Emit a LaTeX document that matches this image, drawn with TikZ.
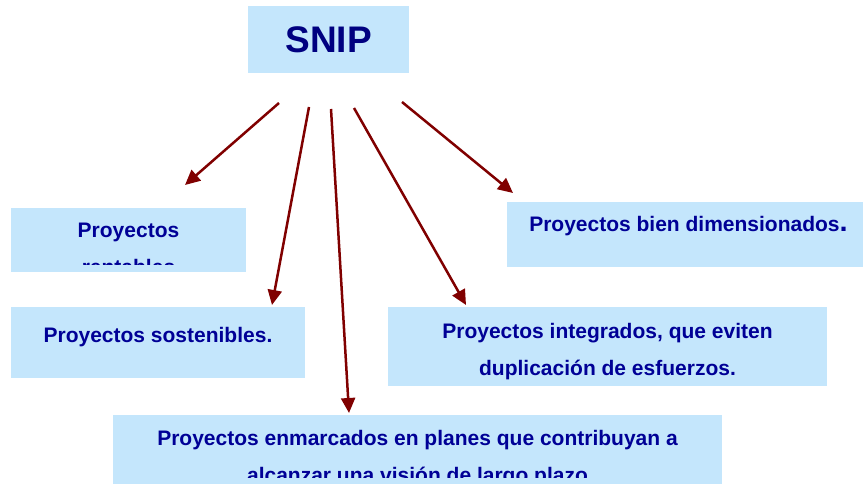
\documentclass[tikz,border=0pt]{standalone}
\usepackage{fontspec}
\setmainfont{Liberation Sans}
\usetikzlibrary{arrows.meta,positioning}
\definecolor{boxblue}{RGB}{196,230,252}
\definecolor{snipnavy}{RGB}{0,0,128}
\definecolor{txtnavy}{RGB}{0,0,150}
\definecolor{arrowred}{RGB}{128,0,0}
\tikzset{
  box/.style={rectangle,fill=boxblue,inner sep=0pt},
  txt/.style={inner sep=0pt,align=center,text=txtnavy,font=\bfseries\fontsize{21}{37}\selectfont},
  link/.style={->,draw=arrowred}
}

\begin{document}
\begin{tikzpicture}[x=1pt,y=-1pt,>={Triangle[length=15pt,width=14pt]},line width=2.5pt]
\useasboundingbox (0,0) rectangle (863,484);

\node[box,minimum width=161pt,minimum height=67pt,text=snipnavy,font=\bfseries\fontsize{37}{37}\selectfont] (snip) at (328.5,39.5) {SNIP};
\node[box,minimum width=235pt,minimum height=64pt] (rent) at (128.5,240) {};
\node[box,minimum width=363pt,minimum height=65pt] (dim)  at (688.5,234.5) {};
\node[box,minimum width=294pt,minimum height=71pt] (sost) at (158,342.5) {};
\node[box,minimum width=439pt,minimum height=79pt] (integ) at (607.5,346.5) {};
\node[box,minimum width=609pt,minimum height=85pt] (enm)  at (417.5,457.5) {};

\begin{scope}
\clip (rent.north west) rectangle (rent.east |- 0,264);
\node[txt] (rentT) [below=15pt of rent.north] {Proyectos\\rentables};
\end{scope}
\node[txt] (dimT) [below=14pt of dim.north] {Proyectos bien dimensionados{\fontsize{29}{29}\selectfont.}};
\node[txt] (sostT) [below=20pt of sost.north] {Proyectos sostenibles.};
\node[txt] (integT) [below=16pt of integ.north] {Proyectos integrados, que eviten\\duplicación de esfuerzos.};
\begin{scope}
\clip (enm.north west) rectangle (enm.east |- 0,477);
\node[txt] (enmT) [below=15pt of enm.north] {Proyectos enmarcados en planes que contribuyan a\\alcanzar una visión de largo plazo};
\end{scope}

% arrow ends
\coordinate (s1) at (279,103);  \coordinate (t1) at (185,185);
\coordinate (s2) at (309,107);  \coordinate (t2) at (272,305);
\coordinate (s3) at (331,109);  \coordinate (t3) at (349,413);
\coordinate (s4) at (354,108);  \coordinate (t4) at (466,305);
\coordinate (s5) at (402,102);  \coordinate (t5) at (513,193);

\path (s1) edge[link] (t1)
  (s2) edge[link] (t2)
  (s3) edge[link] (t3)
  (s4) edge[link] (t4)
  (s5) edge[link] (t5);

\end{tikzpicture}
\end{document}
